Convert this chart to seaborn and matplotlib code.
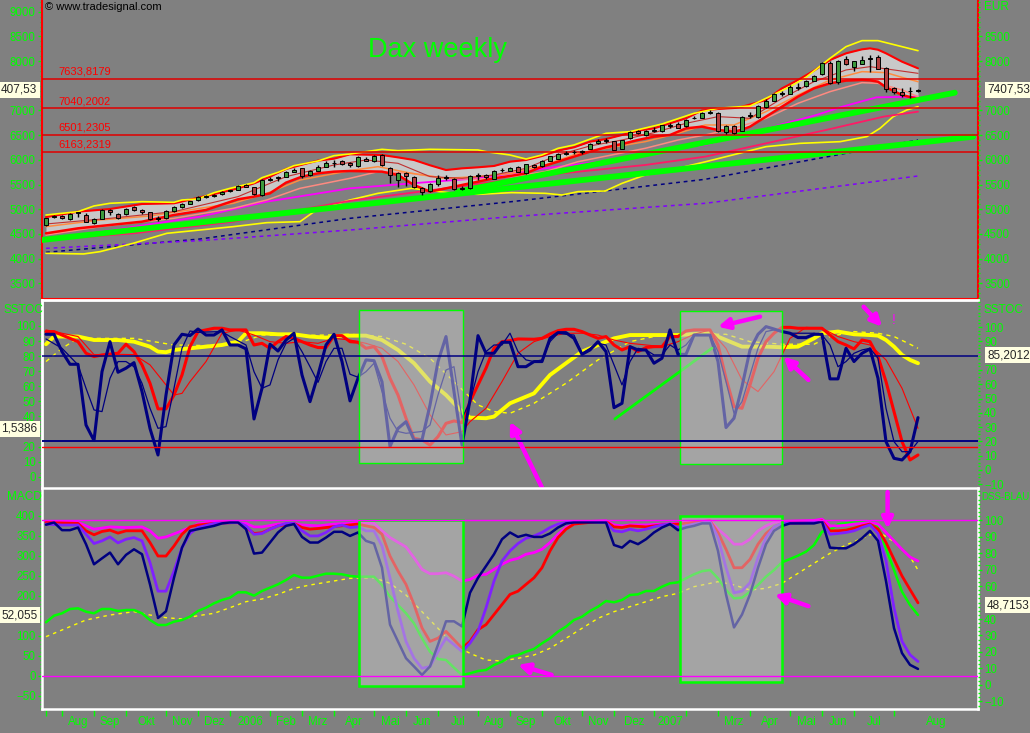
import numpy as np
import pandas as pd
import matplotlib
matplotlib.use("Agg")
import matplotlib.pyplot as plt
from matplotlib.patches import Rectangle
from matplotlib.ticker import AutoMinorLocator
import seaborn as sns

# -----------------------------
# Weekly DAX candles
# -----------------------------
c_open = [4690, 4840, 4860, 4800, 4940, 4880, 4730, 4810, 4980, 4900,
          4900, 5040, 4980, 4940, 4820, 4820, 4960, 5050, 5110, 5180,
          5250, 5270, 5300, 5360, 5390, 5490, 5440, 5290, 5600, 5630,
          5660, 5760, 5830, 5690, 5780, 5860, 5930, 5970, 5930, 5870,
          6010, 5970, 6100, 5840, 5590, 5730, 5660, 5420, 5370, 5510,
          5640, 5610, 5410, 5420, 5680, 5690, 5620, 5790, 5780, 5860,
          5730, 5900, 5870, 5980, 6020, 6120, 6150, 6170, 6220, 6340,
          6400, 6380, 6220, 6440, 6580, 6500, 6590, 6580, 6690, 6730,
          6680, 6840, 6850, 6950, 6950, 6560, 6680, 6590, 6880, 6860,
          7070, 7200, 7330, 7340, 7480, 7490, 7600, 7730, 7970, 7570,
          8040, 7880, 7950, 8040, 8090, 7870, 7450, 7380, 7390, 7400]
c_high = [4830, 4875, 4890, 4930, 4950, 4920, 4820, 5000, 5000, 4920,
          5020, 5060, 5000, 4950, 4860, 4980, 5060, 5130, 5170, 5270,
          5280, 5310, 5360, 5390, 5500, 5510, 5460, 5610, 5660, 5680,
          5770, 5830, 5840, 5790, 5890, 5970, 5990, 6000, 5950, 6080,
          6050, 6090, 6120, 5850, 5750, 5750, 5680, 5460, 5540, 5700,
          5700, 5640, 5480, 5690, 5730, 5710, 5800, 5840, 5850, 5880,
          5920, 5920, 5990, 6080, 6140, 6170, 6200, 6190, 6340, 6420,
          6440, 6390, 6410, 6590, 6600, 6600, 6660, 6710, 6750, 6760,
          6830, 6880, 6960, 7000, 6960, 6700, 6700, 6890, 6960, 7110,
          7230, 7360, 7400, 7520, 7550, 7620, 7720, 7990, 8000, 8030,
          8100, 8010, 8100, 8130, 8130, 7880, 7470, 7450, 7470, 7430]
c_low = [4670, 4830, 4810, 4790, 4850, 4740, 4700, 4800, 4890, 4800,
         4890, 4970, 4900, 4790, 4770, 4800, 4950, 5030, 5100, 5160,
         5220, 5250, 5290, 5340, 5380, 5440, 5280, 5270, 5570, 5580,
         5650, 5750, 5640, 5680, 5770, 5850, 5860, 5900, 5860, 5850,
         5970, 5960, 5880, 5540, 5460, 5480, 5420, 5290, 5350, 5480,
         5600, 5380, 5380, 5400, 5600, 5620, 5610, 5750, 5770, 5750,
         5720, 5840, 5860, 5970, 6010, 6100, 6120, 6120, 6210, 6330,
         6340, 6190, 6210, 6430, 6530, 6490, 6570, 6570, 6640, 6640,
         6670, 6820, 6840, 6930, 6560, 6520, 6530, 6580, 6850, 6850,
         7060, 7190, 7300, 7330, 7420, 7480, 7590, 7720, 7540, 7540,
         7920, 7800, 7940, 7780, 7830, 7370, 7330, 7280, 7250, 7380]
c_close = [4820, 4860, 4830, 4900, 4920, 4745, 4810, 4980, 4950, 4830,
           5010, 4990, 4950, 4810, 4800, 4960, 5050, 5110, 5160, 5240,
           5260, 5290, 5340, 5380, 5470, 5460, 5300, 5590, 5620, 5650,
           5750, 5800, 5670, 5780, 5860, 5940, 5940, 5920, 5890, 6060,
           5980, 6080, 5890, 5700, 5740, 5670, 5460, 5350, 5520, 5640,
           5650, 5400, 5420, 5670, 5690, 5650, 5780, 5800, 5840, 5760,
           5910, 5860, 5980, 6070, 6120, 6130, 6160, 6160, 6320, 6390,
           6390, 6200, 6400, 6570, 6550, 6580, 6610, 6700, 6700, 6650,
           6800, 6850, 6950, 6970, 6580, 6680, 6550, 6870, 6900, 7090,
           7200, 7330, 7350, 7480, 7450, 7600, 7700, 7970, 7560, 8000,
           7940, 8000, 8030, 8060, 7840, 7430, 7380, 7310, 7400, 7408]

# Bollinger band (red) and its grey body
bb_x = [0, 4, 8, 12, 16, 20, 24, 26, 28, 30, 32, 34, 36, 38, 42, 44, 46, 48,
        50, 52, 54, 56, 58, 60, 62, 64, 66, 68, 70, 72, 74, 76, 78, 80, 82,
        84, 86, 87, 88, 90, 92, 94, 96, 98, 100, 102, 103, 104, 105, 107, 109]
bb_upper = [4840, 4951, 5005, 5106, 5120, 5268, 5423, 5524, 5659, 5815, 5902,
            5984, 6024, 6112, 6098, 6050, 5997, 5890, 5794, 5828, 5849, 5876,
            5963, 5997, 6078, 6186, 6254, 6368, 6422, 6503, 6591, 6638, 6740,
            6841, 7000, 7030, 7050, 7077, 7120, 7212, 7448, 7617, 7806, 8022,
            8157, 8238, 8258, 8230, 8157, 7988, 7853]
bb_lower = [4512, 4613, 4681, 4748, 4883, 4985, 5201, 5255, 5322, 5538, 5660,
            5727, 5761, 5774, 5761, 5693, 5491, 5356, 5423, 5491, 5558, 5626,
            5673, 5727, 5862, 5963, 6065, 6166, 6254, 6321, 6402, 6470, 6503,
            6638, 6672, 6605, 6571, 6610, 6672, 6875, 7077, 7280, 7448, 7550,
            7604, 7617, 7610, 7583, 7469, 7313, 7232]

env_top_x = [0, 2, 4, 6, 8, 12, 16, 17, 19, 21, 23, 26, 27, 29, 31, 34, 36, 38,
             42, 44, 48, 54, 55, 58, 60, 62, 64, 66, 70, 73, 77, 81, 84, 88, 90,
             93, 95, 98, 100, 102, 104, 107, 109]
env_top = [4883, 4917, 4951, 5066, 5120, 5153, 5140, 5187, 5207, 5335, 5423,
           5538, 5639, 5747, 5882, 5977, 6085, 6118, 6213, 6186, 6213, 6200,
           6166, 6098, 6017, 6098, 6233, 6301, 6537, 6571, 6726, 6942, 7044,
           7090, 7246, 7482, 7671, 8056, 8292, 8414, 8414, 8292, 8211]

env_low_x = [0, 4.7, 6.75, 10.9, 15.1, 23.4, 27.6, 31.75, 33.8, 38, 41.5, 45.7,
             51.1, 54, 58.2, 62.4, 64.5, 66.5, 69.9, 72, 74.9, 79, 82.4, 90,
             94.25, 99.25, 102.6, 104.25, 105.9, 107.6, 109]
env_low = [4107, 4094, 4141, 4310, 4512, 4647, 4728, 4748, 4985, 5187, 5322,
           5423, 5322, 5302, 5336, 5322, 5288, 5356, 5369, 5524, 5693, 5828,
           5960, 6267, 6334, 6368, 6470, 6638, 6875, 7010, 7077]

mid_x = [0, 8, 16, 24, 30, 36, 40, 44, 48, 52, 56, 60, 64, 68, 72, 76, 80, 84,
         88, 92, 96, 100, 103, 106, 109]
mid_line = [4701, 4816, 4951, 5255, 5659, 5896, 5997, 5930, 5660, 5626, 5693,
            5828, 6098, 6281, 6402, 6550, 6740, 6875, 6841, 7246, 7583, 7820,
            7887, 7820, 7752]

orange_x = [0, 6.75, 13, 19.25, 23.4, 27.6, 31.75, 38, 41.5, 45.7, 49.9, 54,
            58.2, 62.4, 66.5, 70.7, 74.9, 79, 82.4, 86, 90, 94, 98, 102, 105,
            107, 109]
orange_line = [4647, 4782, 4863, 5018, 5120, 5322, 5592, 5781, 5862, 5727, 5626,
               5660, 5727, 5896, 6132, 6254, 6368, 6537, 6706, 6706, 6976, 7313,
               7617, 7786, 7766, 7671, 7583]

salmon_x = [0, 6.75, 16, 23.4, 27.6, 31.75, 38, 41.5, 45.7, 49.9, 54, 58.2,
            62.4, 66.5, 70.7, 74.9, 79, 82.4, 86, 90, 94, 98, 102, 104, 107, 109]
salmon_line = [4478, 4647, 4816, 5018, 5187, 5423, 5626, 5761, 5727, 5626, 5606,
               5660, 5761, 5963, 6098, 6233, 6402, 6503, 6638, 6841, 7145, 7381,
               7563, 7550, 7415, 7280]

magenta_x = [5, 9.7, 19.25, 27.6, 38, 45.7, 54, 62.4, 70.7, 79, 82.4, 96.3,
             99.25, 103.8, 109]
magenta_line = [4512, 4613, 4849, 5153, 5423, 5524, 5626, 5828, 5997, 6233,
                6301, 6908, 7063, 7266, 7280]

crimson_x = [0, 10.9, 23.4, 38, 49.9, 62.4, 74.9, 82.4, 90, 98.4, 104.7, 109]
crimson_line = [4377, 4512, 4748, 5170, 5423, 5693, 5896, 6065, 6334, 6638,
                6875, 6976]

navy_ma_x = [0, 19.25, 38, 58.2, 82.4, 109]
navy_ma = [4127, 4397, 4816, 5153, 5606, 6402]
purple_ma_x = [0, 19.25, 38, 58.2, 82.4, 109]
purple_ma = [4208, 4364, 4579, 4850, 5120, 5673]

trend_a_x = [-0.5, 115.9]
trend_a = [4377, 6469]
trend_b_x = [51.5, 113.6]
trend_b = [5356, 7360]

levels = [7633.8179, 7040.2002, 6501.2305, 6163.2319]
level_labels = ["7633,8179", "7040,2002", "6501,2305", "6163,2319"]

# -----------------------------
# SSTOC panel
# -----------------------------
sstoc_fast = [94.5, 94.5, 83, 74.6, 74.6, 34.3, 24, 69.7, 89.6, 69.3,
              72, 75.7, 56.5, 32, 14.4, 54.2, 87.4, 94.5, 93.6, 98,
              94, 94, 97.4, 87.4, 87.4, 84.8, 38.3, 58.7, 87.9, 83.4,
              90.7, 95.2, 67.5, 49.8, 67.5, 87.4, 94.5, 76.4, 50.3, 65.3,
              77.5, 77, 63, 20, 32, 36.5, 24.4, 24.4, 47.6, 76.4,
              93, 56.5, 21, 50.9, 93.6, 81.9, 81.9, 89.2, 89.2, 73,
              73, 76.4, 76.4, 91.8, 95.6, 95.6, 91.8, 81.2, 84.1, 89.6,
              83, 45.8, 48.7, 86.3, 84.1, 84.1, 75.3, 78.6, 97.4, 81.2,
              81.2, 94, 94, 94, 76.4, 32.6, 38.8, 59.8, 84.1, 94.5,
              99.6, 98, 96.3, 95.2, 92.3, 92.3, 94.5, 94.5, 64.9, 64.9,
              85.2, 76.4, 81.9, 84.8, 65.3, 23.3, 12.2, 11.1, 16.6, 39.2]

sstoc_slow_x = [0, 2, 4, 5, 6, 7, 8, 9, 10, 11, 12, 13, 14, 15, 16, 17, 18, 19,
                20, 22, 23, 25, 26, 27, 28, 29, 30, 31, 32, 33, 34, 35, 36, 37,
                38, 39, 40, 41, 42, 43, 44, 45, 47, 48, 49, 50, 51, 52, 53, 54,
                55, 56, 57, 58, 59, 60, 61, 62, 63, 64, 65, 66, 67, 68, 69, 70,
                71, 72, 73, 74, 75, 76, 77, 78, 79, 80, 81, 83, 84, 85, 86, 87,
                88, 89, 90, 91, 92, 93, 96, 97, 98, 99, 100, 101, 102, 103, 104,
                105, 106, 107, 108, 109]
sstoc_slow = [91.4, 85.2, 74.2, 58.7, 44.3, 43.2, 65.3, 76.4, 76.4, 73, 62,
              45.4, 32.1, 33.2, 58.7, 85.2, 96.7, 95.8, 96, 96.3, 93, 87.4,
              69.7, 58.7, 60.9, 77.5, 88.5, 91.8, 83, 73, 62.6, 76.4, 85.2,
              85.2, 68, 66, 69.7, 75.3, 56.5, 38.8, 30, 28.8, 30, 34.3, 54.2,
              70.8, 73, 38.8, 49.8, 69.7, 83, 87.4, 87.4, 95.2, 83, 77.5,
              76.4, 77.5, 89.6, 95.2, 94.5, 94, 81.9, 85.2, 88.5, 87.4, 74.2,
              60.9, 76.4, 85.2, 84.1, 80.8, 80.8, 87.4, 84.1, 87.4, 94, 94,
              83, 63.1, 42.1, 49.8, 67.5, 85.2, 96.3, 97.4, 96.3, 95.2, 95.2,
              94, 87.4, 73, 76.4, 81.9, 84.1, 85.2, 78.6, 45.4, 23.3, 16.6,
              16.6, 23.3]

sstoc_red_x = [0, 1, 2, 4, 5, 6, 7, 9, 10, 11, 12, 13, 14, 15, 16, 17, 18, 19,
               20, 21, 22, 23, 25, 26, 27, 28, 29, 30, 31, 32, 33, 34, 35, 36,
               37, 38, 39, 40, 41, 42, 43, 44, 45, 46, 47, 48, 49, 50, 51, 52,
               53, 54, 55, 56, 57, 58, 59, 61, 62, 63, 64, 65, 66, 67, 68, 69,
               70, 71, 72, 73, 74, 75, 76, 77, 78, 79, 80, 81, 83, 84, 85, 86,
               87, 88, 89, 90, 91, 92, 93, 94, 97, 98, 99, 100, 101, 102, 103,
               104, 105, 106, 107, 108, 109]
sstoc_red = [96.3, 96.3, 94, 89.6, 81.9, 79.7, 80.8, 81.9, 87.9, 83, 74.2, 62,
             45, 45, 54.2, 67.5, 86.3, 96.3, 97.4, 98.5, 98.5, 97.4, 97.4,
             87.4, 88.5, 85.2, 89.6, 93, 91.8, 89.6, 87.4, 85.7, 85.7, 93.6,
             93.6, 89.6, 89.2, 85.2, 86.3, 79.7, 65.3, 54.2, 38.8, 25.5, 24.4,
             21, 26.6, 35.4, 37, 35.9, 49.8, 60.9, 72, 85.2, 89.6, 90.3, 91.4,
             91.2, 91.8, 94.7, 96.9, 97.8, 97.8, 96.3, 94, 91.8, 93, 87.4,
             84.1, 86.3, 83, 85.7, 86.3, 86.3, 93, 93, 96.7, 97.4, 97.4, 87.4,
             65.3, 46.5, 45.4, 60.9, 78.6, 89.6, 95.2, 99.1, 99.1, 98.5, 98.5,
             94, 89.6, 87.4, 84.8, 90.7, 89.6, 79.7, 63.1, 43.2, 23.3, 11.1,
             14.4]

sstoc_red_thin_x = [0, 4, 6, 9, 11, 13, 15, 16, 17, 18, 20, 22, 24, 26, 28, 30,
                    32, 34, 36, 38, 40, 42, 44, 46, 48, 50, 52, 53, 55, 57, 59,
                    61, 63, 65, 67, 69, 71, 73, 75, 77, 79, 81, 83, 85, 87, 89,
                    91, 93, 95, 97, 99, 101, 103, 105, 107, 109]
sstoc_red_thin = [97.4, 93, 81, 81.2, 81, 74.2, 60.9, 54.2, 55.3, 63.1, 76.4,
                  95.2, 97.4, 94, 89.6, 88.5, 89.6, 88.5, 91.8, 90.7, 88.5,
                  85.2, 76.4, 60.9, 41, 27.7, 29.9, 36.5, 45.4, 63.1, 81.9,
                  89.6, 93, 95.2, 95.2, 94, 90.7, 88.5, 87.4, 86.3, 89.6, 94.5,
                  97.4, 85.2, 64.2, 56.5, 69.7, 91.8, 99.1, 98.5, 93, 89.6,
                  87.4, 77.5, 58.7, 32.1]

sstoc_yellow_x = [0, 1, 4, 6, 9, 11, 13, 14, 15, 16, 18, 20, 22, 24, 25, 27, 29,
                  31, 33, 35, 37, 40, 42, 44, 46, 48, 50, 52, 53, 55, 56, 58, 61,
                  63, 65, 67, 69, 71, 73, 76, 79, 82, 83, 85, 87, 90, 92, 94, 96,
                  97, 99, 101, 103, 104, 105, 106, 107, 108, 109]
sstoc_yellow = [87.9, 93, 93, 90.7, 90.7, 89.6, 86.3, 83, 82.6, 84.1, 85.2,
                86.3, 87.4, 89.6, 95.2, 95.2, 94.5, 94.5, 93, 92.3, 93.6, 93.6,
                90.7, 84.1, 75.3, 63.1, 54.2, 43.2, 39.2, 38.8, 39.9, 48.7,
                55.3, 67.5, 75.3, 83, 87.4, 91.8, 94, 94, 94, 95, 95.2, 90.7,
                86.3, 86.3, 85.9, 86.3, 91.8, 95.2, 96.3, 94.5, 94, 93.6, 90.7,
                86.3, 80.8, 77.5, 75.3]

sstoc_ydash_x = [0, 2, 4, 7, 11, 16, 20, 24, 27, 31, 35, 38, 42, 45, 48, 51, 54,
                 56, 58, 61, 65, 69, 73, 76, 80, 85, 88, 92, 96, 98, 101, 104,
                 106, 108, 109]
sstoc_ydash = [76.4, 85.2, 91.8, 91.8, 91.8, 87.4, 87, 88.5, 94, 93.6, 94,
               94.5, 93, 87.9, 78.6, 63.1, 47.6, 43.2, 42.1, 48.7, 62, 77.5,
               89.6, 93, 94.5, 94.5, 89.6, 87.9, 87.9, 93, 96.3, 95.2, 93,
               87.9, 85.2]

# -----------------------------
# MACD / DSS panel
# -----------------------------
dss_navy = [97.2, 98.6, 93.9, 93.9, 95.5, 85.4, 73.2, 76.8, 80.3, 73.2,
            78.9, 82.3, 79.3, 61, 40.6, 44.7, 65, 83.3, 93.5, 94.5,
            95.5, 96.5, 98, 98.6, 98.6, 94.5, 79.7, 80.3, 86.4, 92.5,
            96.5, 97.6, 89.8, 86.4, 86.4, 89.4, 92.9, 92.9, 90.4, 92.5,
            87.4, 85.8, 71.1, 36.6, 26.4, 16.2, 11.2, 6.1, 11.2, 24.4,
            38.6, 38.6, 35.5, 55.9, 65, 72.1, 79.3, 88.4, 92.5, 89.8,
            91.1, 89.8, 89.8, 91.9, 95.5, 98, 98.6, 98.6, 98.6, 98.6,
            98.6, 84.9, 83.3, 87.4, 85.4, 88.4, 92.5, 95.5, 97.6, 93.9,
            95.5, 96.5, 98, 98, 81.3, 54.9, 34.9, 42.7, 54.9, 71.1,
            85.4, 93.5, 96.5, 98, 98, 98, 98, 99.2, 83.3, 82.9,
            82.9, 85.4, 89, 93.5, 87.4, 63, 34.5, 19.3, 12.2, 9.7]

dss_purple_x = [0, 2, 4, 5, 6, 7, 8, 9, 10, 11, 12, 13, 14, 15, 16, 17, 18, 19,
                21, 24, 25, 26, 27, 28, 29, 30, 31, 32, 33, 34, 35, 36, 37, 38,
                39, 40, 41, 42, 43, 44, 45, 46, 47, 48, 49, 50, 51, 52, 53, 54,
                55, 56, 57, 58, 59, 60, 61, 62, 63, 64, 65, 67, 70, 71, 72, 73,
                74, 75, 76, 77, 78, 79, 80, 81, 83, 84, 85, 86, 87, 88, 89, 90,
                91, 92, 96, 97, 98, 99, 100, 101, 102, 103, 104, 105, 106, 107,
                108, 109]
dss_purple = [97.6, 97, 97, 91.4, 85.8, 87.4, 89.8, 86.2, 88.4, 89.4, 87.4,
              74.2, 56.9, 56.9, 69.1, 83.3, 91.9, 95.5, 98, 98.6, 96.5, 91.4,
              91.9, 94.5, 96.5, 98, 98, 93.5, 90.4, 90.4, 92.5, 95.9, 97,
              95.5, 95.9, 93.5, 93.5, 84.3, 65, 44.7, 26.4, 16.2, 10.1, 11.2,
              20.3, 28.4, 24.4, 20.3, 25.4, 32.5, 46.7, 63, 75.2, 81.3, 85.8,
              89, 90.4, 92.5, 95.5, 97.6, 98.6, 99.2, 98.6, 93.5, 92.9, 94.5,
              93.5, 94.5, 95.9, 97.1, 97.6, 95.5, 96.5, 97.6, 99.2, 89.4, 71.1,
              55.9, 56.9, 62, 77.2, 89.4, 95.9, 98, 98.6, 99.2, 91.4, 91.9,
              92.5, 93.5, 95.5, 97.1, 91.9, 75.2, 46.7, 26.4, 18.3, 14.2]

dss_red_x = [0, 4, 5, 6, 7, 8, 9, 10, 12, 13, 14, 15, 16, 17, 18, 19, 21, 24,
             25, 26, 27, 28, 29, 31, 32, 33, 34, 35, 38, 39, 40, 41, 42, 43, 44,
             45, 46, 47, 48, 49, 50, 51, 52, 53, 54, 55, 56, 57, 58, 59, 60, 61,
             62, 63, 64, 65, 66, 68, 70, 71, 72, 73, 75, 77, 79, 81, 83, 84, 85,
             86, 87, 88, 89, 90, 91, 92, 96, 97, 98, 99, 100, 101, 102, 103,
             104, 105, 106, 107, 108, 109]
dss_red = [98.6, 98, 93.5, 91.1, 93.1, 93.9, 92.1, 93.5, 93.5, 86.4, 78.2,
           78.2, 84.3, 91.4, 95.9, 97, 98, 98.6, 95.5, 91.9, 92.3, 94.5, 96.5,
           98, 95.5, 94.5, 94.9, 95.5, 97.1, 97.6, 96.5, 95.5, 91.4, 78.2,
           69.1, 61, 48.8, 34.6, 26.4, 28.4, 32.5, 27.4, 22.3, 26.4, 33.5,
           36.6, 42.7, 48.8, 54.9, 56.9, 61, 65, 71.1, 81.3, 89.4, 94.5, 97.6,
           98.6, 99.2, 95.9, 95.5, 96.5, 95.9, 97.1, 97.6, 98.6, 99.6, 92.5,
           82.3, 71.1, 71.1, 76.2, 85.4, 91.9, 95.9, 98, 98.6, 99.6, 93.5,
           93.5, 93.9, 95.1, 96.5, 97.6, 94.5, 86.4, 76.2, 66.1, 57.9, 49.8]

dss_pink_x = [0, 4, 6, 8, 10, 12, 13, 14, 15, 17, 19, 21, 25, 26, 27, 29, 31,
              32, 34, 36, 38, 39, 41, 42, 43, 45, 46, 47, 48, 49, 50, 51, 52,
              53, 54, 55, 56, 57, 58, 59, 60, 61, 62, 63, 64, 65, 66, 68, 70,
              71, 72, 73, 75, 77, 79, 81, 83, 84, 85, 86, 87, 88, 89, 90, 91,
              92, 96, 97, 98, 99, 100, 101, 102, 103, 104, 105, 106, 107, 108,
              109]
dss_pink = [99.2, 98.6, 94.5, 95.9, 95.5, 95.9, 93.5, 89, 89.8, 93.5, 97.6,
            99.2, 98, 95.9, 95.9, 97.6, 98, 97.1, 96.5, 97.6, 98, 98.6, 98,
            93.5, 89.4, 83.7, 77.2, 70.1, 67.5, 67.5, 68.1, 66, 63, 64, 66.6,
            67.1, 70.1, 73.2, 75.6, 76.8, 79.3, 80.3, 82.3, 86.4, 91.4, 95.5,
            97.6, 99.2, 99.6, 97.1, 96.5, 97.1, 97.1, 97.6, 98, 99, 99.8, 94.5,
            90.4, 85.4, 85.4, 88.4, 93.5, 96.5, 98.6, 99.2, 99.8, 100.6, 96.5,
            96.5, 96.9, 97.6, 98, 98.6, 97.6, 92.5, 87.4, 82.3, 77.6, 75.2]

macd_green = [134.2, 150.8, 156.7, 167.5, 169.2, 160.8, 156.7, 167.5, 167.5, 162.5,
              165, 165, 156.7, 140, 127.5, 127.5, 135.8, 140, 148.3, 162.5,
              170.8, 181.7, 190, 195.8, 209.2, 209.2, 200.8, 212.5, 220.8, 229.2,
              240, 252.5, 245.8, 245.8, 250.8, 255.8, 255.8, 254.2, 250, 248.3,
              248.3, 248.3, 227.5, 198.3, 177.5, 156.7, 131.7, 94.2, 60.8, 42.5,
              40, 20.8, 2.5, 6.7, 12.5, 15, 27.5, 35.8, 48.3, 52.5,
              60.8, 67.5, 81.7, 94.2, 110.8, 123.3, 140, 148.3, 162.5, 173.3,
              187.5, 184.2, 190, 202.5, 204.2, 212.5, 212.5, 223.3, 231.7, 234.2,
              244.2, 254.2, 262, 265, 244.2, 215, 194.2, 195.8, 210.8, 227.5,
              248.3, 265, 284.2, 292.5, 300.8, 310.8, 327.5, 360.8, 365, 379.2,
              381.7, 384.2, 385.8, 387.5, 373.3, 319.2, 265, 210.8, 177.5, 152.5]

macd_signal_x = [0, 2, 5, 8, 11, 13, 15, 17, 19, 21, 23, 25, 27, 29, 31, 33, 35,
                 38, 41, 43, 45, 47, 49, 51, 53, 55, 57, 59, 61, 63, 65, 67, 69,
                 71, 73, 75, 77, 79, 81, 84, 86, 88, 90, 92, 94, 96, 98, 100, 102,
                 104, 106, 108, 109]
macd_signal = [98.3, 115, 140, 152.5, 160.8, 152.5, 145.8, 142.5, 150.8, 156.7,
               170.8, 185.8, 192.5, 204.2, 219.2, 227.5, 234.2, 244.2, 245.8,
               231.7, 202.5, 160.8, 119.2, 77.5, 56.7, 40, 37.5, 44.2, 52.5,
               69.2, 94.2, 119.2, 144.2, 160.8, 173.3, 185.8, 198.3, 206.7,
               223.3, 235.8, 227.5, 215, 219.2, 231.7, 256.7, 281.7, 306.7,
               327.5, 344.2, 360.8, 335.8, 298.3, 265]

# German month labels, "Feb" 2007 is missing on the original
month_labels = ["Aug", "Sep", "Okt", "Nov", "Dez", "2006", "Feb", "Mrz", "Apr",
                "Mai", "Jun", "Jul", "Aug", "Sep", "Okt", "Nov", "Dez", "2007",
                "", "Mrz", "Apr", "Mai", "Jun", "Jul", "Aug"]

# -----------------------------
# Style
# -----------------------------
sns.set_style("dark")
plt.rcParams["font.family"] = ["Liberation Sans", "DejaVu Sans"]

BG = "#808080"
LIME = "#00ff00"
NAVY = "#000080"
XMAX = 116.5

fig = plt.figure(figsize=(10.30, 7.33), dpi=100, facecolor=BG)


def px_axes(top, bottom, left=42, right=978):
    a = fig.add_axes([left / 1030, (733 - bottom) / 733,
                      (right - left) / 1030, (bottom - top) / 733])
    a.set_facecolor(BG)
    a.grid(False)
    return a


def line(ax, x, y, color, lw, ls="-", z=3):
    sns.lineplot(x=x, y=y, ax=ax, color=color, linewidth=lw, linestyle=ls,
                 estimator=None, errorbar=None, legend=False, zorder=z)


def style_y(ax, side, ticks, minor_n, hidden=()):
    # ticks hidden under the value boxes are left out
    ax.set_yticks([t for t in ticks if t not in hidden])
    ax.yaxis.set_minor_locator(AutoMinorLocator(minor_n))
    ax.tick_params(axis="y", which="major", direction="out", length=3, width=1,
                   color=LIME, labelcolor=LIME, labelsize=8.3, pad=1.5,
                   left=(side == "left"), labelleft=(side == "left"),
                   right=(side == "right"), labelright=(side == "right"))
    ax.tick_params(axis="y", which="minor", direction="out", length=1.5,
                   width=1, color=LIME, left=(side == "left"),
                   right=(side == "right"))
    ax.tick_params(axis="x", which="both", bottom=False, labelbottom=False)
    ax.set_xlabel("")
    ax.set_ylabel("")


def shade_box(ax, x0, x1, y0, y1, edge_lw=1.0):
    ax.add_patch(Rectangle((x0, y0), x1 - x0, y1 - y0, facecolor="#c8c8c8",
                           alpha=0.5, edgecolor="none", zorder=8))
    ax.add_patch(Rectangle((x0, y0), x1 - x0, y1 - y0, facecolor="none",
                           edgecolor=LIME, lw=edge_lw, zorder=9))


def arrow(ax, tail, tip):
    ax.annotate("", xy=tip, xytext=tail, annotation_clip=False,
                arrowprops=dict(arrowstyle="-|>", color="#ff00ff", lw=3.2,
                                mutation_scale=16, shrinkA=0, shrinkB=0),
                zorder=12)


# -----------------------------
# Panel 1: price
# -----------------------------
ax1 = px_axes(0, 299)
ax1.fill_between(bb_x, bb_lower, bb_upper, color="#c8c8c8", lw=0, zorder=1)
line(ax1, navy_ma_x, navy_ma, NAVY, 1.1, (0, (2.5, 2.5)), 2)
line(ax1, purple_ma_x, purple_ma, "#8000ff", 1.1, (0, (2.5, 2.5)), 2)
line(ax1, env_low_x, env_low, "#ffff00", 1.2, "-", 2)
line(ax1, crimson_x, crimson_line, "#ff1a66", 1.3, "-", 2)
line(ax1, magenta_x, magenta_line, "#ff00ff", 1.3, "-", 2)
line(ax1, salmon_x, salmon_line, "#ff8a80", 1.1, "-", 2)
line(ax1, orange_x, orange_line, "#ff8c40", 1.1, "-", 2)
line(ax1, mid_x, mid_line, "#c03030", 0.8, "-", 2)
line(ax1, bb_x, bb_upper, "#ff0000", 1.5, "-", 3)
line(ax1, bb_x, bb_lower, "#ff0000", 1.8, "-", 3)
line(ax1, env_top_x, env_top, "#ffff00", 1.2, "-", 3)
line(ax1, trend_a_x, trend_a, LIME, 4.2, "-", 3.5)
line(ax1, trend_b_x, trend_b, LIME, 4.2, "-", 3.5)

for lv, lab in zip(levels, level_labels):
    ax1.axhline(lv, color="#e00000", lw=1.1, zorder=4)
    ax1.text(1.5, lv + 45, lab, color="#ff0000", fontsize=8, va="bottom",
             ha="left", zorder=4)

idx = np.arange(len(c_close))
o = np.array(c_open)
c = np.array(c_close)
ax1.vlines(idx, c_low, c_high, color="black", lw=1, zorder=5)
ax1.bar(idx, np.abs(c - o), bottom=np.minimum(o, c), width=0.62,
        color=np.where(c >= o, "#3c9a3c", "#b44040"), edgecolor="black",
        linewidth=0.7, zorder=6)

ax1.set_xlim(-0.5, XMAX)
ax1.set_ylim(3182, 9237)
style_y(ax1, "left", range(3500, 9001, 500), 5, hidden=(7500,))
for s in ["left", "right", "bottom"]:
    ax1.spines[s].set_color("#ff0000")
    ax1.spines[s].set_linewidth(1.5)
ax1.spines["top"].set_visible(False)

ax1r = ax1.twinx()
ax1r.set_ylim(3182, 9237)
style_y(ax1r, "right", range(3500, 8501, 500), 5, hidden=(7500,))
for s in ax1r.spines.values():
    s.set_visible(False)

# -----------------------------
# Panel 2: SSTOC
# -----------------------------
ax2 = px_axes(300.3, 487.7)
line(ax2, sstoc_ydash_x, sstoc_ydash, "#ffff00", 1.0, (0, (3, 3)), 2)
line(ax2, sstoc_yellow_x, sstoc_yellow, "#ffff00", 2.8, "-", 3)
line(ax2, sstoc_red_thin_x, sstoc_red_thin, "#ff0000", 0.8, "-", 3)
line(ax2, sstoc_red_x, sstoc_red, "#ff0000", 2.2, "-", 4)
line(ax2, sstoc_slow_x, sstoc_slow, NAVY, 0.9, "-", 4)
line(ax2, list(idx), sstoc_fast, NAVY, 2.2, "-", 5)
line(ax2, [71.1, 83.25], [38.3, 85.3], LIME, 2.0, "-", 6)
ax2.axhline(20, color="#ff0000", lw=1, zorder=10)
shade_box(ax2, 39.1, 52.1, 9.1, 110.4)
shade_box(ax2, 79.25, 92, 8.4, 110)
ax2.set_xlim(-0.5, XMAX)
ax2.set_ylim(-7.3, 117.05)
style_y(ax2, "left", range(0, 101, 10), 4, hidden=(30,))
for s in ["top", "left"]:
    ax2.spines[s].set_color("white")
    ax2.spines[s].set_linewidth(2)
ax2.spines["right"].set_visible(False)
ax2.spines["bottom"].set_visible(False)

ax2r = ax2.twinx()
ax2r.set_ylim(-12.4, 118.7)
style_y(ax2r, "right", range(-10, 101, 10), 4, hidden=(80,))
ax2r.axhline(80, color=NAVY, lw=1.1)
ax2r.axhline(20, color=NAVY, lw=1.4)
for s in ax2r.spines.values():
    s.set_visible(False)

arrow(ax2, (62, -7.3), (58, 36.5))
arrow(ax2, (89.25, 106.2), (84, 99.5))
arrow(ax2, (95.3, 64.2), (92.2, 79.6))
arrow(ax2, (102.2, 112.8), (104.5, 99.5))
ax2.text(106, 104, "!", color="#ff00ff", fontsize=10, ha="center",
         va="center", zorder=12)

# -----------------------------
# Panel 3: MACD / DSS
# -----------------------------
ax3 = px_axes(488.3, 709)
line(ax3, macd_signal_x, macd_signal, "#ffff00", 1.0, (0, (2.5, 3)), 2)
line(ax3, list(idx), macd_green, LIME, 1.8, "-", 3)
ax3.set_xlim(-0.5, XMAX)
ax3.set_ylim(-82.5, 469.25)
style_y(ax3, "left", range(-50, 401, 50), 5, hidden=(150,))
for s in ax3.spines.values():
    s.set_color("white")
    s.set_linewidth(1.8)

ax3r = ax3.twinx()
line(ax3r, dss_pink_x, dss_pink, "#ff00ff", 2.0, "-", 3)
line(ax3r, dss_red_x, dss_red, "#ff0000", 2.0, "-", 4)
line(ax3r, dss_purple_x, dss_purple, "#8020ff", 2.0, "-", 5)
line(ax3r, list(idx), dss_navy, NAVY, 1.8, "-", 6)
shade_box(ax3r, 39.1, 52.1, -14.6 + (709 - 686) / 1.64, 119.3 - (520 - 488.3) / 1.64, 1.8)
shade_box(ax3r, 79.25, 92, -14.6 + (709 - 682) / 1.64, 119.3 - (516 - 488.3) / 1.64, 1.8)
ax3r.axhline(100, color="#ff00ff", lw=1, zorder=10)
ax3r.axhline(5.5, color="#ff00ff", lw=1, zorder=10)
ax3r.set_xlim(-0.5, XMAX)
ax3r.set_ylim(-14.6, 119.3)
style_y(ax3r, "right", range(-10, 101, 10), 4, hidden=(50,))
for s in ax3r.spines.values():
    s.set_visible(False)

arrow(ax3r, (105.2, 117.0), (105.2, 94.7))
arrow(ax3r, (95.3, 47.8), (91.1, 54.9))
arrow(ax3r, (63.2, 6.1), (59, 12.2))

# month ticks on the bottom axis
dates = pd.date_range("2005-07-24", periods=len(c_close), freq="W-SUN")
month_start = [0] + [i for i in range(1, len(dates))
                     if dates[i].month != dates[i - 1].month]
bounds = month_start[1:] + [XMAX]
mids = [(a + b) / 2 for a, b in zip(bounds[:-1], bounds[1:])]
ax3.set_xticks(month_start)
ax3.set_xticklabels([])
ax3.set_xticks(mids, minor=True)
ax3.set_xticklabels(month_labels, minor=True)
ax3.tick_params(axis="x", which="major", bottom=True, direction="out",
                length=5, width=1, color=LIME)
ax3.tick_params(axis="x", which="minor", bottom=True, labelbottom=True,
                length=0, pad=5, labelcolor=LIME, labelsize=8.3)

# -----------------------------
# Texts and value boxes
# -----------------------------
def fx(px):
    return px / 1030


def fy(py):
    return 1 - py / 733


fig.text(fx(368), fy(50), "Dax weekly", color=LIME, fontsize=19.5,
         ha="left", va="center")
fig.text(fx(45), fy(7), "\u00a9 www.tradesignal.com", color="black",
         fontsize=8, ha="left", va="center")

fig.text(fx(984), fy(7), "EUR", color=LIME, fontsize=8.5, va="center")
fig.text(fx(4), fy(310), "SSTOC", color=LIME, fontsize=8.5, va="center")
fig.text(fx(984), fy(310), "SSTOC", color=LIME, fontsize=8.5, va="center")
fig.text(fx(7), fy(497), "MACD", color=LIME, fontsize=8.5, va="center")
fig.text(fx(981), fy(497), "DSS-BLAU", color=LIME, fontsize=6.9, va="center")

box = dict(facecolor="#ffffe1", edgecolor="none", pad=1.8)
fig.text(fx(1), fy(90), "407,53", fontsize=8.5, va="center", bbox=box)
fig.text(fx(987), fy(90), "7407,53", fontsize=8.5, va="center", bbox=box)
fig.text(fx(1), fy(429), "1,5386", fontsize=8.5, va="center", bbox=box)
fig.text(fx(987), fy(355), "85,2012", fontsize=8.5, va="center", bbox=box)
fig.text(fx(1), fy(615), "52,055", fontsize=8.5, va="center", bbox=box)
fig.text(fx(987), fy(605), "48,7153", fontsize=8.5, va="center", bbox=box)

fig.savefig("out.png", dpi=100, facecolor=BG)
